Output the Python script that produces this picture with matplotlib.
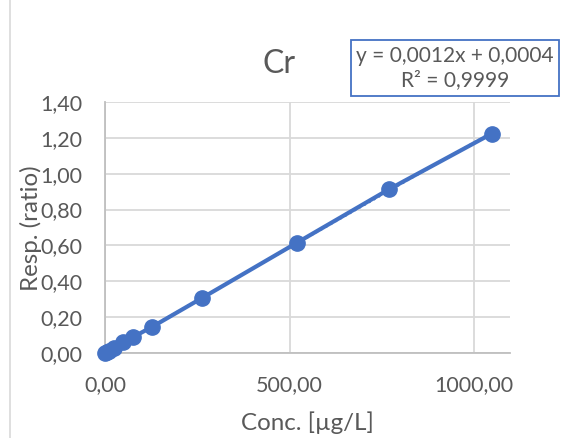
import numpy as np
import matplotlib.pyplot as plt
from matplotlib.patches import Rectangle

# calibration data for Cr
conc = [0, 5, 10, 25, 50, 75, 127, 263, 519, 770, 1048]
resp = [0.0004, 0.006, 0.012, 0.030, 0.060, 0.088, 0.145, 0.307, 0.614, 0.914, 1.224]
y_ticks = [0.0, 0.2, 0.4, 0.6, 0.8, 1.0, 1.2, 1.4]
x_ticks = [0, 500, 1000]

blue = "#4472C4"
grey_text = "#595959"
W, H = 572, 438

plt.rcParams["font.family"] = ["Lato", "DejaVu Sans"]

fig = plt.figure(figsize=(W / 100, H / 100), dpi=100)
ax = fig.add_axes([105 / W, 1 - 353 / H, 405 / W, 251 / H])

# chart border
fig.patches.append(Rectangle((10 / W, -0.05), 1.2, 1.2, transform=fig.transFigure,
                             fill=False, edgecolor="#d9d9d9", linewidth=1.2))

# linear fit (dotted trendline)
slope, icpt = np.polyfit(conc, resp, 1)
xs = np.array([0, max(conc)])
ax.plot(xs, slope * xs + icpt, color=blue, linestyle=":", linewidth=1.5, zorder=3)

ax.plot(conc, resp, color=blue, linewidth=3, marker="o", markersize=11, zorder=4,
        clip_on=False)

ax.set_xlim(0, 1097)
ax.set_ylim(0, 1.4)
ax.set_xticks(x_ticks)
ax.set_yticks(y_ticks)
ax.set_xticklabels([f"{v:.2f}".replace(".", ",") for v in x_ticks])
ax.set_yticklabels([f"{v:.2f}".replace(".", ",") for v in y_ticks])
ax.tick_params(length=0, labelsize=15.5, labelcolor=grey_text)
ax.tick_params(axis="y", pad=16)
ax.tick_params(axis="x", pad=16)
ax.grid(True, color="#d9d9d9", linewidth=1.3)
ax.set_axisbelow(True)
for s in ["top", "right"]:
    ax.spines[s].set_visible(False)
for s in ["left", "bottom"]:
    ax.spines[s].set_color("#bfbfbf")
    ax.spines[s].set_linewidth(1.3)

ax.set_xlabel("Conc. [µg/L]", fontsize=17.4, color=grey_text)
ax.set_ylabel("Resp. (ratio)", fontsize=17.4, color=grey_text)
ax.xaxis.set_label_coords(307 / W, 1 - 423 / H, transform=fig.transFigure)
ax.yaxis.set_label_coords(31 / W, 1 - 228 / H, transform=fig.transFigure)
ax.xaxis.label.set_va("center")
ax.yaxis.label.set_va("center")

fig.text(279 / W, 1 - 64 / H, "Cr", fontsize=23, color=grey_text,
         ha="center", va="center")

fig.text(455 / W, 1 - 68 / H, "y = 0,0012x + 0,0004\nR² = 0,9999",
         fontsize=15, color=grey_text, ha="center", va="center", linespacing=1.3,
         bbox=dict(boxstyle="square,pad=0.25", facecolor="white", edgecolor=blue,
                   linewidth=1.3))

fig.savefig("out.png", dpi=100)
